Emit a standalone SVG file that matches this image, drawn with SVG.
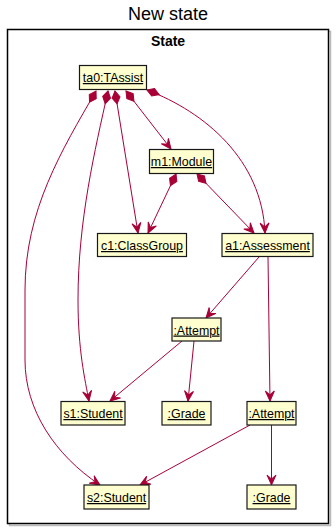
<svg xmlns="http://www.w3.org/2000/svg" width="336" height="530" viewBox="0 0 336 530">
  <style>
    .title { font-family: "Liberation Sans", Arial, sans-serif; font-size: 18px; fill: #000; text-anchor: middle; }
    .frame-title { font-family: "Liberation Sans", Arial, sans-serif; font-size: 14px; font-weight: bold; fill: #000; text-anchor: middle; }
    .obj rect { fill: #FEFECE; stroke: #181818; stroke-width: 1.2; }
    .obj text { font-family: "Liberation Sans", Arial, sans-serif; font-size: 12.4px; fill: #000; text-anchor: middle; text-decoration: underline; }
    .link { fill: none; stroke: #A80036; stroke-width: 1; }
    .arrow { marker-end: url(#head); }
    .comp { marker-start: url(#diamond); }
  </style>
  <defs>
    <marker id="head" markerUnits="userSpaceOnUse" viewBox="-11 -6 12 12" refX="0" refY="0" markerWidth="12" markerHeight="12" orient="auto">
      <path d="M0,0 L-10,-4.5 L-6,0 L-10,4.5 Z" fill="#A80036" stroke="#A80036" stroke-width="1"/>
    </marker>
    <marker id="diamond" markerUnits="userSpaceOnUse" viewBox="-1 -6 16 12" refX="0" refY="0" markerWidth="16" markerHeight="12" orient="auto">
      <path d="M0,0 L6.5,-4 L13,0 L6.5,4 Z" fill="#A80036" stroke="#A80036" stroke-width="1"/>
    </marker>
  </defs>

  <rect width="336" height="530" fill="#FFFFFF"/>
  <text class="title" x="168" y="20">New state</text>

  <!-- package frame with drop shadow -->
  <g id="frame">
    <rect x="9.5" y="31.5" width="321" height="494" fill="none" stroke="#BBBBBB" stroke-width="1.5"/>
    <rect x="7.5" y="29.5" width="321" height="494" fill="#FFFFFF" stroke="#000000" stroke-width="1.5"/>
    <text class="frame-title" x="168" y="46">State</text>
  </g>

  <g id="connectors">
    <path class="link comp arrow" d="M96,91 C62,150 25,210 25,290 L25,360 C25,410 55,455 100,485"/>
    <path class="link comp arrow" d="M108,91 C95,150 78,220 78,300 C78,350 85,380 89,401"/>
    <path class="link comp arrow" d="M115,91 L138,233"/>
    <path class="link comp arrow" d="M126,91 L171,149"/>
    <path class="link comp arrow" d="M147,90 C205,112 262,160 265,233"/>
    <path class="link comp arrow" d="M176,174 L148,233"/>
    <path class="link comp arrow" d="M197,174 L254,233"/>
    <path class="link arrow" d="M259,257 L206,318"/>
    <path class="link arrow" d="M268,257 L270,401"/>
    <path class="link arrow" d="M182,341 L110,401"/>
    <path class="link arrow" d="M194,341 L188,401"/>
    <path class="link arrow" d="M250,425 L140,485"/>
    <path class="link arrow" d="M271.5,425 L271.5,485"/>
  </g>

  <g id="ta0" class="obj">
    <rect x="79.5" y="65.5" width="67" height="24"/>
    <text x="113" y="82">ta0:TAssist</text>
  </g>
  <g id="m1" class="obj">
    <rect x="149.5" y="149.5" width="64" height="24"/>
    <text x="181.5" y="166">m1:Module</text>
  </g>
  <g id="c1" class="obj">
    <rect x="97.5" y="233.5" width="89" height="23"/>
    <text x="142" y="250">c1:ClassGroup</text>
  </g>
  <g id="a1" class="obj">
    <rect x="222" y="233.5" width="91" height="23"/>
    <text x="267.5" y="250">a1:Assessment</text>
  </g>
  <g id="attempt1" class="obj">
    <rect x="172" y="318" width="49" height="23"/>
    <text x="196.5" y="334.5">:Attempt</text>
  </g>
  <g id="s1" class="obj">
    <rect x="61" y="401.5" width="64" height="23.5"/>
    <text x="93" y="418">s1:Student</text>
  </g>
  <g id="grade1" class="obj">
    <rect x="162" y="401.5" width="49" height="23.5"/>
    <text x="186.5" y="418">:Grade</text>
  </g>
  <g id="attempt2" class="obj">
    <rect x="247" y="401.5" width="49" height="23.5"/>
    <text x="271.5" y="418">:Attempt</text>
  </g>
  <g id="s2" class="obj">
    <rect x="84" y="485" width="65" height="24"/>
    <text x="116.5" y="502">s2:Student</text>
  </g>
  <g id="grade2" class="obj">
    <rect x="247" y="485" width="49" height="24"/>
    <text x="271.5" y="502">:Grade</text>
  </g>
</svg>
